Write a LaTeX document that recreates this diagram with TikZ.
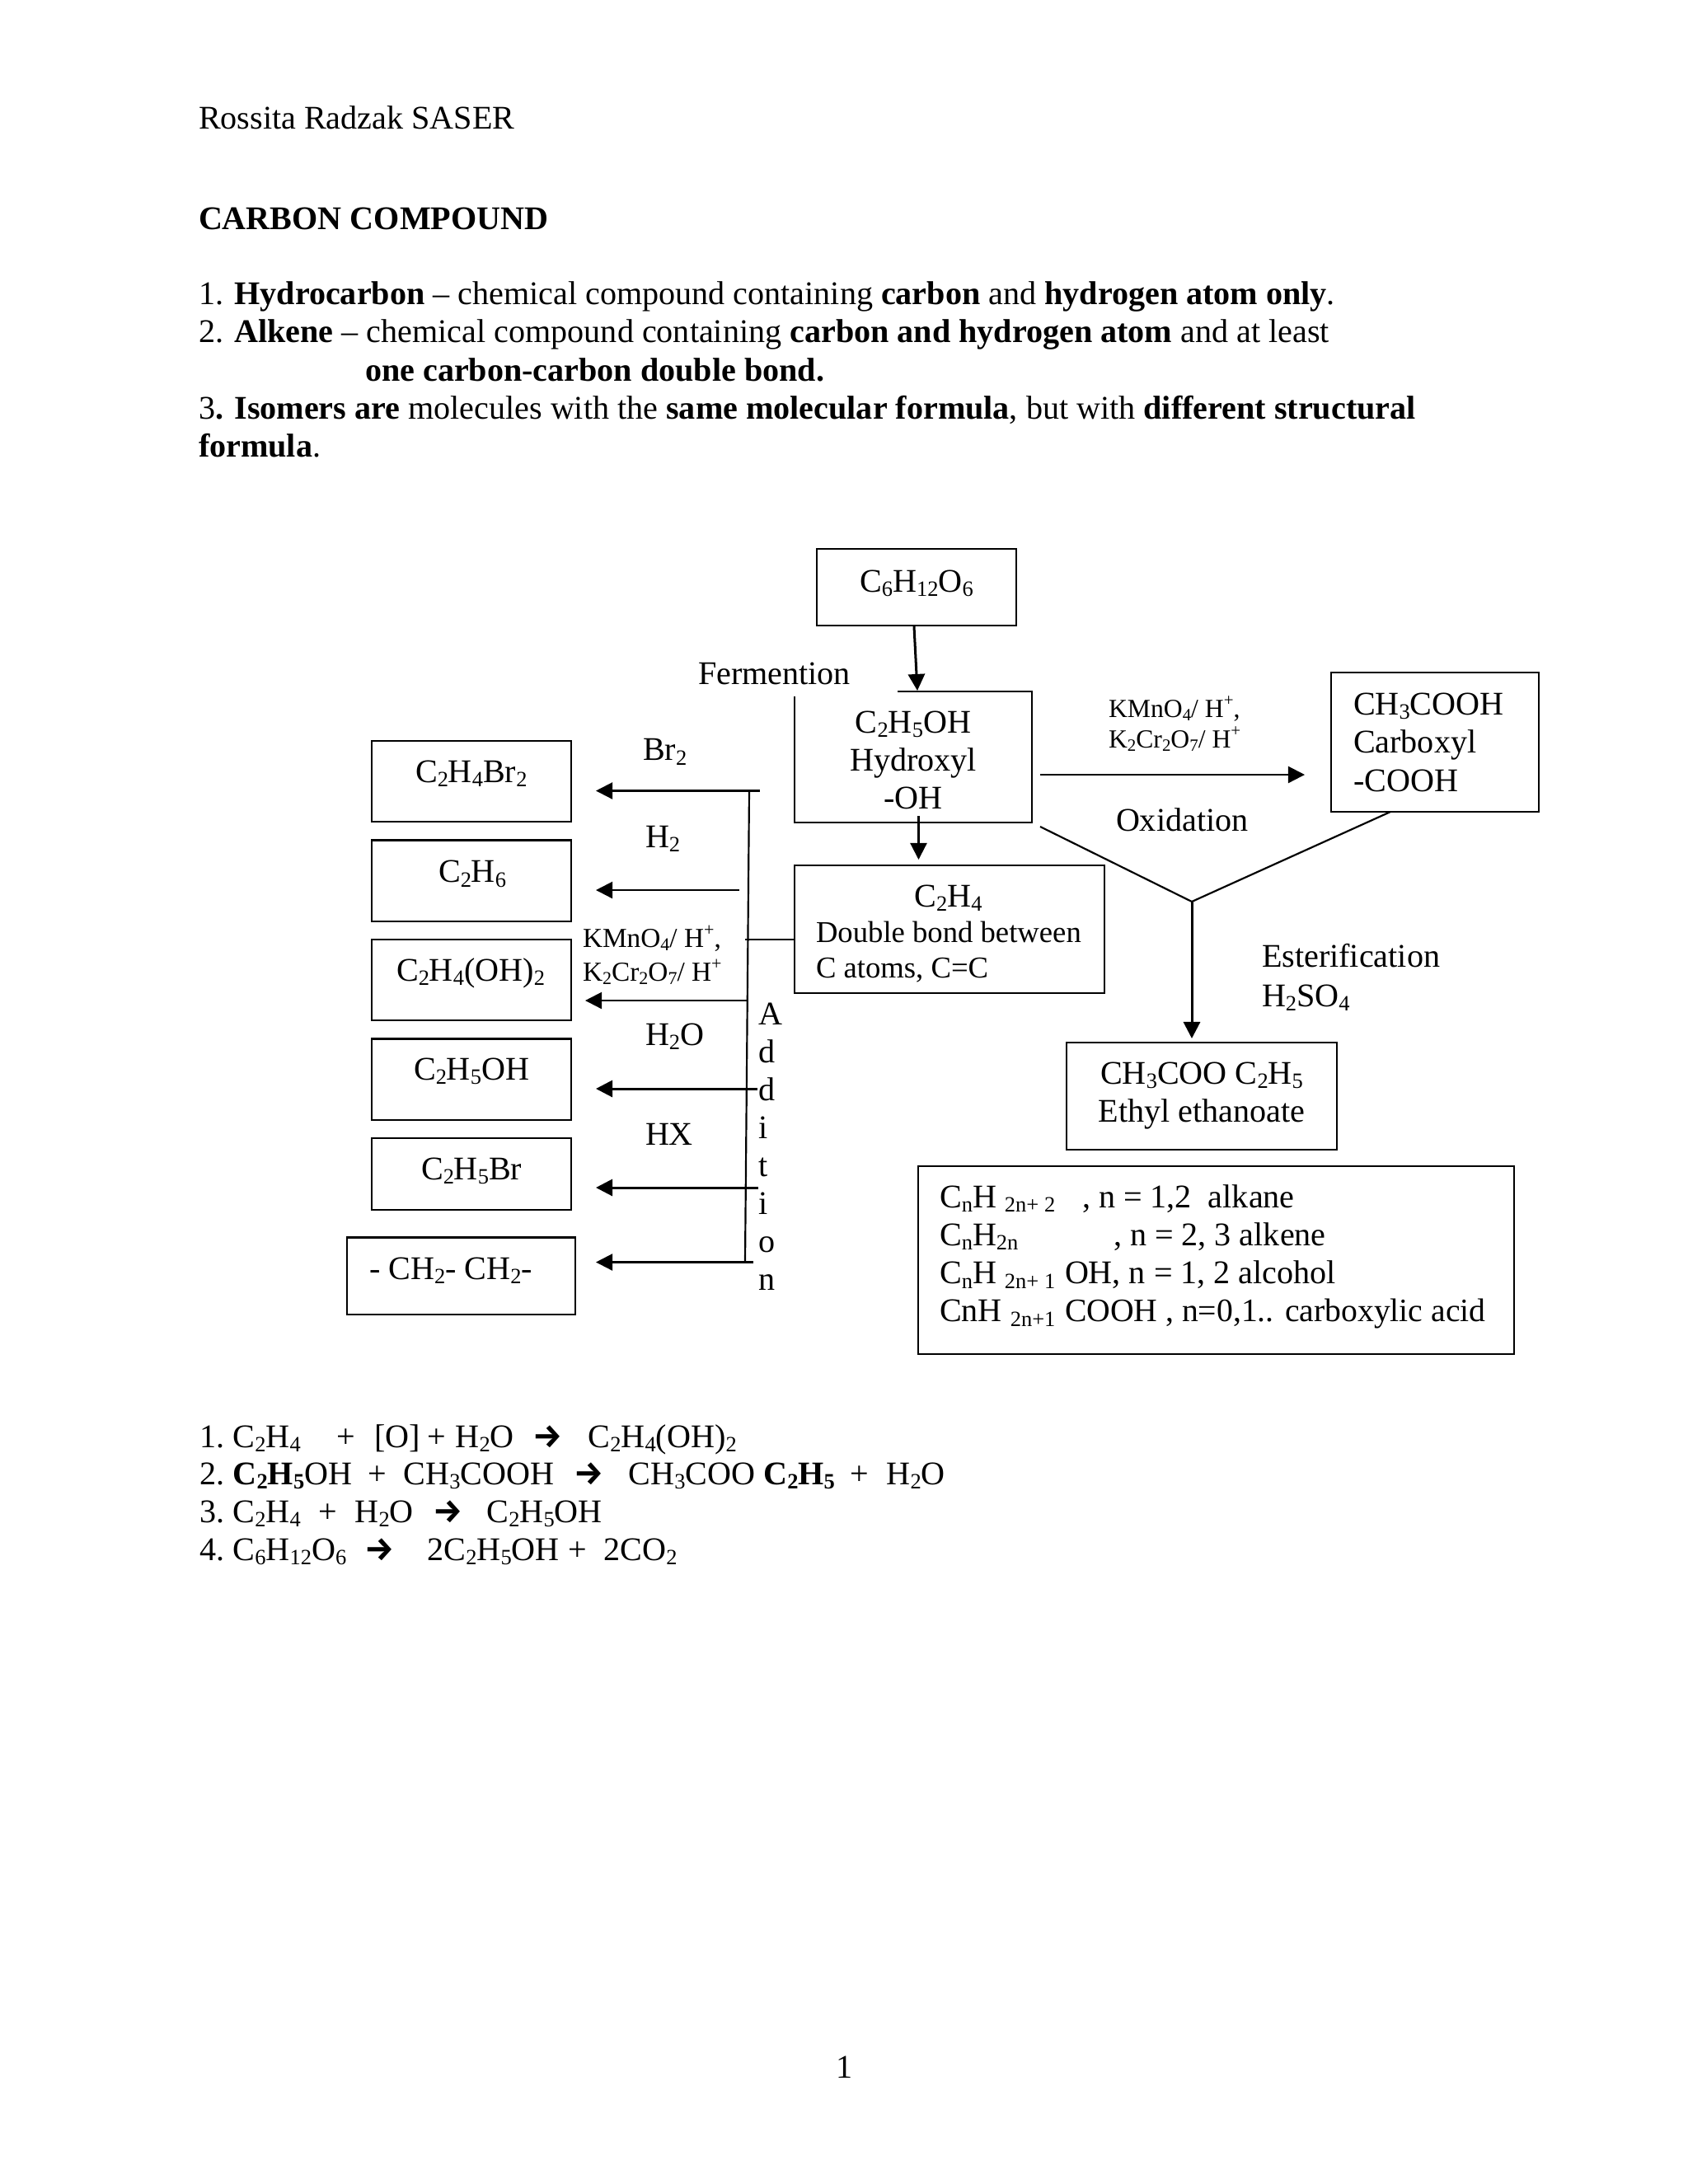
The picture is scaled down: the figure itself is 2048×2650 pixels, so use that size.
\documentclass[tikz,border=0pt]{standalone}
\usepackage{fontspec}
\setmainfont{Liberation Serif}
\newfontfamily\arrowfont{Fira Sans}
\usetikzlibrary{arrows.meta,calc}
\newdimen\pxu \pxu=0.2988bp
\newcommand\fsz[1]{\fontsize{#1pt}{14pt}\selectfont}
\newcommand\sbx[1]{\raisebox{-0.14em}{\fontsize{\dimexpr 0.66\fontdimen6\font\relax}{0pt}\selectfont #1}}
\newcommand\spx[1]{\raisebox{0.42em}{\fontsize{\dimexpr 0.66\fontdimen6\font\relax}{0pt}\selectfont #1}}
\newcommand\cstack[2]{\vtop{\baselineskip=#1\pxu\lineskiplimit=-1000pt\halign{\hfil##\hfil\cr #2\crcr}}}
\newcommand\lstack[2]{\vtop{\baselineskip=#1\pxu\lineskiplimit=-1000pt\halign{##\hfil\cr #2\crcr}}}
\newcommand\tabat[2]{\hbox to 0pt{\hskip\dimexpr#1\pxu\relax #2\hss}}
\newcommand\rarr{{\arrowfont\bfseries →}}
\tikzset{
  every node/.style={font=\fsz{12.03}},
  boxnode/.style={rectangle,draw=black,line width=.65bp,inner sep=0pt,outer sep=0pt,anchor=north west},
  openbox/.style={rectangle,inner sep=0pt,outer sep=0pt,anchor=north west},
  txt/.style={anchor=base west,inner sep=0pt,outer sep=0pt},
  conn/.style={draw=black,line width=.65bp},
  arr/.style={conn,-{Triangle[length=6bp,width=6bp]}},
  heavy/.style={line width=.9bp}
}
% [style]{name}{x1}{y1}{x2}{y2}{baseline}{content}
\newcommand\bx[7][boxnode]{%
  \pgfmathsetmacro\bxw{#5-#3}\pgfmathsetmacro\bxa{#7-#4}\pgfmathsetmacro\bxd{#6-#7}%
  \bxinner{#1}{#2}{#3}{#4}}
\newcommand\bxinner[5]{\node[#1,text height=\bxa\pxu,text depth=\bxd\pxu] (#2) at (#3,#4) {\hbox to \bxw\pxu{#5\hfil}};}
\newcommand\tx[4]{\node[txt] (#1) at (#2,#3) {#4};}
\begin{document}
\begin{tikzpicture}[x=\pxu,y=-\pxu]
\useasboundingbox (0,0) rectangle (2048,2650);
\fill[white] (0,0) rectangle (2048,2650);

% page text
\tx{head}{241}{156}{Rossita Radzak SASER}
\tx{title}{241}{278}{\textbf{CARBON COMPOUND}}
\tx{p1}{241}{369}{1. \textbf{Hydrocarbon} – chemical compound containing \textbf{carbon} and \textbf{hydrogen atom only}.}
\tx{p2}{241}{415}{2. \textbf{Alkene} – chemical compound containing \textbf{carbon and hydrogen atom} and at least}
\tx{p2b}{443}{462}{\textbf{one carbon-carbon double bond.}}
\tx{p3}{241}{508}{3\textbf{. Isomers are} molecules with the \textbf{same molecular formula}, but with \textbf{different structural}}
\tx{p3b}{241}{554}{\textbf{formula}.}

% boxes
\bx{glu}{991}{666}{1233}{759}{718}{\hfil C\sbx{6}H\sbx{12}O\sbx{6}}
\bx[openbox]{eth}{964}{839}{1252}{998}{889}{\hfil\cstack{46}{C\sbx{2}H\sbx{5}OH\cr Hydroxyl\cr -OH}}
\bx{ethene}{964}{1050}{1340}{1205}{1100}{\hskip26\pxu\lstack{43}{\hbox to 321\pxu{\hfil C\sbx{2}H\sbx{4}\hfil}\cr {\fsz{11}Double bond between}\cr {\fsz{11}C atoms, C=C}}}
\bx{acid}{1615}{816}{1867}{985}{867}{\hskip27\pxu\lstack{46.5}{CH\sbx{3}COOH\cr Carboxyl\cr -COOH}}
\bx{ester}{1294}{1265}{1622}{1395}{1315}{\hfil\cstack{46}{CH\sbx{3}COO C\sbx{2}H\sbx{5}\cr Ethyl ethanoate}}
\bx{gen}{1114}{1415}{1837}{1643}{1465}{\hskip26\pxu\lstack{46.2}{%
  \hbox to 173\pxu{C\sbx{n}H \sbx{2n+ 2}\hfil}, n = 1,2\ \ alkane\cr
  \hbox to 211\pxu{C\sbx{n}H\sbx{2n}\hfil}, n = 2, 3 alkene\cr
  \hbox to 152\pxu{C\sbx{n}H \sbx{2n+ 1}\hfil}OH, n = 1, 2 alcohol\cr
  \hbox to 152\pxu{CnH \sbx{2n+1}\hfil}{\fsz{11.9}COOH , n=0,1.. carboxylic acid}}}

\bx{bromo}{451}{899}{693}{997}{949}{\hskip53\pxu C\sbx{2}H\sbx{4}Br\sbx{2}}
\bx{ethane}{451}{1019.5}{693}{1118}{1070.5}{\hskip81\pxu C\sbx{2}H\sbx{6}}
\bx{diol}{451}{1140}{693}{1238}{1190}{\hskip30\pxu C\sbx{2}H\sbx{4}(OH)\sbx{2}}
\bx{ethanol}{451}{1260.5}{693}{1359}{1310}{\hskip51\pxu C\sbx{2}H\sbx{5}OH}
\bx{bromoeth}{451}{1381}{693}{1468}{1431}{\hskip60\pxu C\sbx{2}H\sbx{5}Br}
\bx{poly}{421}{1501.5}{698}{1595}{1552}{\hskip27\pxu - CH\sbx{2}- CH\sbx{2}-}

% labels
\tx{ferm}{847}{830}{Fermention}
\tx{lbr}{780}{922.5}{Br\sbx{2}}
\tx{lh}{783}{1028}{H\sbx{2}}
\node[txt,font=\fsz{10}] (lkmn) at (707,1149) {\lstack{41}{KMnO\sbx{4}/ H\spx{+},\cr K\sbx{2}Cr\sbx{2}O\sbx{7}/ H\spx{+}}};
\tx{lwat}{783}{1268}{H\sbx{2}O}
\tx{lhx}{783}{1389}{HX}
\tx{ladd}{920}{1243}{\lstack{46.1}{A\cr d\cr d\cr i\cr t\cr i\cr o\cr n}}
\node[txt,font=\fsz{9.5}] (rkmn) at (1345,870) {\lstack{37}{KMnO\sbx{4}/ H\spx{+},\cr K\sbx{2}Cr\sbx{2}O\sbx{7}/ H\spx{+}}};
\tx{oxi}{1354}{1008}{Oxidation}
\tx{esterif}{1531}{1173}{\lstack{48}{Esterification\cr H\sbx{2}SO\sbx{4}}}

% coordinates for connector ends
\coordinate (gluOut) at (1109,760);
\coordinate (ethIn) at (1113,838);
\coordinate (ethOut) at (1114.5,990);
\coordinate (etheneIn) at (1114.5,1043);
\coordinate (ethTop) at (1089,839);
\coordinate (ethLeft) at (964,845);
\coordinate (oxiA) at (1262,940);
\coordinate (oxiB) at (1583,940);
\coordinate (yA) at (1262,1003);
\coordinate (yB) at (1687,985);
\coordinate (yC) at (1446,1094);
\coordinate (yD) at (1446,1260);
\coordinate (busTop) at (909,959.5);
\coordinate (busBot) at (904,1531.5);
\coordinate (busMid) at (904,1140);
\coordinate (a1s) at (922,959.5);  \coordinate (a1e) at (723,959.5);
\coordinate (a2s) at (897,1080);   \coordinate (a2e) at (723,1080);
\coordinate (a3s) at (906,1214);   \coordinate (a3e) at (710,1214);
\coordinate (a4s) at (919,1321);   \coordinate (a4e) at (723,1321);
\coordinate (a5s) at (920,1441);   \coordinate (a5e) at (723,1441);
\coordinate (a6s) at (914,1531.5); \coordinate (a6e) at (723,1531.5);

% connectors
\draw[conn] (ethLeft) -- (eth.south west) -- (eth.south east) -- (eth.north east) -- (ethTop);
\draw[arr,heavy] (gluOut) -- (ethIn);
\draw[arr] (ethOut) -- (etheneIn);
\draw[arr] (oxiA) -- (oxiB);
\draw[conn] (yA) -- (yC) -- (yB);
\draw[arr,heavy] (yC) -- (yD);
\draw[conn] (busTop) -- (busBot);
\draw[conn] (busMid) -- (busMid -| ethene.west);
\draw[arr] (a1s) -- (a1e);
\draw[arr] (a2s) -- (a2e);
\draw[arr] (a3s) -- (a3e);
\draw[arr,heavy] (a4s) -- (a4e);
\draw[arr,heavy] (a5s) -- (a5e);
\draw[arr] (a6s) -- (a6e);

% equations
\tx{eq1}{241}{1756}{\tabat{0}{1.}\tabat{40}{C\sbx{2}H\sbx{4}}\tabat{166}{+}\tabat{212}{[O]}\tabat{276}{+}\tabat{310}{H\sbx{2}O}\tabat{404}{\rarr}\tabat{471}{C\sbx{2}H\sbx{4}(OH)\sbx{2}}}
\tx{eq2}{241}{1801}{\tabat{0}{2.}\tabat{40}{\textbf{C\sbx{2}H\sbx{5}}OH}\tabat{204}{+}\tabat{247}{CH\sbx{3}COOH}\tabat{454}{\rarr}\tabat{520}{CH\sbx{3}COO \textbf{C\sbx{2}H\sbx{5}}}\tabat{789}{+}\tabat{833}{H\sbx{2}O}}
\tx{eq3}{241}{1847}{\tabat{0}{3.}\tabat{40}{C\sbx{2}H\sbx{4}}\tabat{144}{+}\tabat{188}{H\sbx{2}O}\tabat{283}{\rarr}\tabat{348}{C\sbx{2}H\sbx{5}OH}}
\tx{eq4}{241}{1893}{\tabat{0}{4.}\tabat{40}{C\sbx{6}H\sbx{12}O\sbx{6}}\tabat{200}{\rarr}\tabat{276}{2C\sbx{2}H\sbx{5}OH}\tabat{447}{+}\tabat{490}{2CO\sbx{2}}}

\tx{page}{1014}{2521}{1}
\end{tikzpicture}
\end{document}
